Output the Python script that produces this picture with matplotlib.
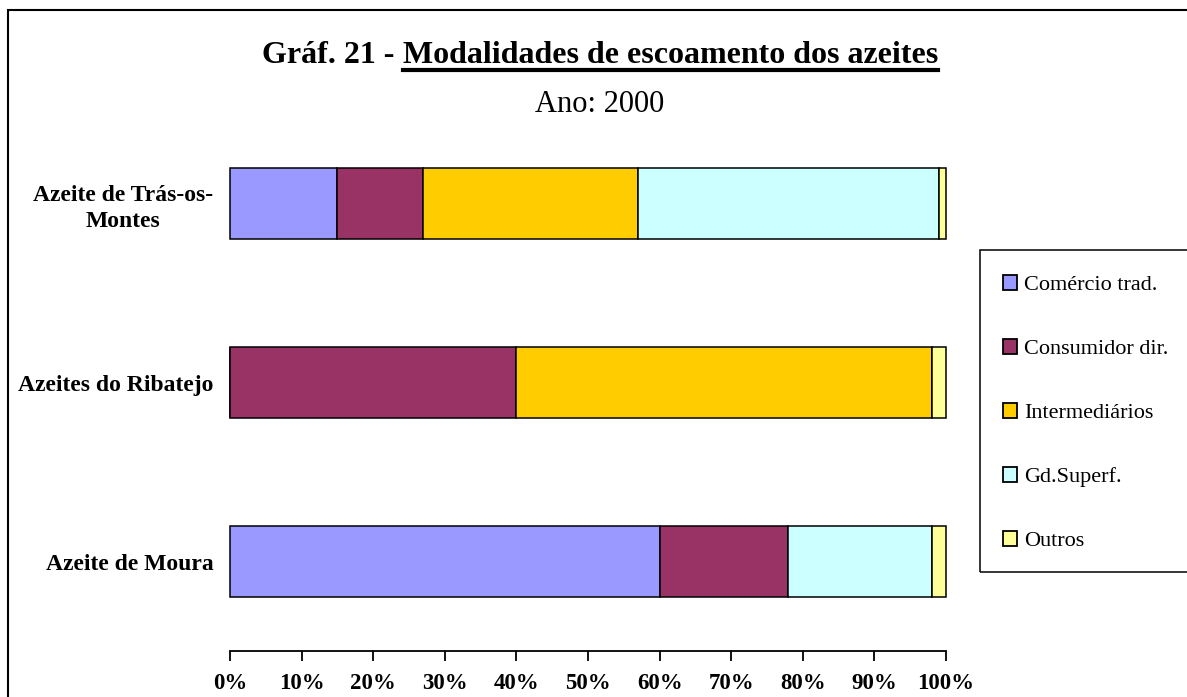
import matplotlib
matplotlib.use('Agg')
from matplotlib import pyplot as plt
from matplotlib.patches import Rectangle, Patch
from matplotlib.ticker import FuncFormatter
from matplotlib.lines import Line2D

# dados
categorias = ['Azeite de Moura', 'Azeites do Ribatejo', 'Azeite de Trás-os-\nMontes']
series = ['Comércio trad.', 'Consumidor dir.', 'Intermediários', 'Gd.Superf.', 'Outros']
comercio = [60, 0, 15]
consumidor = [18, 40, 12]
intermediarios = [0, 58, 30]
gd_superf = [20, 0, 42]
outros = [2, 2, 1]
cores = ['#9999FF', '#993366', '#FFCC00', '#CCFFFF', '#FFFF99']

W, H = 1187, 697
plt.rcParams['font.family'] = ['Liberation Serif', 'DejaVu Serif']

fig = plt.figure(figsize=(W / 100, H / 100), dpi=100)

def fx(px):
  return px / W

def fy(py):
  return 1 - py / H

# moldura exterior
fig.patches.append(Rectangle((fx(8), fy(H + 20)), fx(W + 20), (H + 10) / H,
                             transform=fig.transFigure, fill=False, lw=1.5, ec='black'))

ax = fig.add_axes([fx(230), fy(651), 716 / W, (651 - 114) / H])

valores = [comercio, consumidor, intermediarios, gd_superf, outros]
esquerda = [0, 0, 0]
for serie, vals, cor in zip(series, valores, cores):
  ax.barh(range(len(categorias)), vals, left=esquerda, height=0.4, color=cor,
          edgecolor='black', linewidth=1.1, label=serie, clip_on=False)
  esquerda = [e + v for e, v in zip(esquerda, vals)]

ax.set_xlim(0, 100)
ax.set_ylim(-0.5, 2.5)
ax.set_xticks(range(0, 101, 10))
ax.xaxis.set_major_formatter(FuncFormatter(lambda v, p: f'{v:.0f}%'))
ax.set_yticks(range(len(categorias)))
ax.set_yticklabels(categorias, fontweight='bold', fontsize=17, multialignment='center',
                   linespacing=1.3)
for s in ['top', 'right', 'left']:
  ax.spines[s].set_visible(False)
ax.spines['bottom'].set_linewidth(1.3)
ax.tick_params(axis='y', length=0, pad=12)
ax.tick_params(axis='x', direction='out', length=7, width=1.3, pad=9, labelsize=16.5)
for t in ax.get_xticklabels():
  t.set_fontweight('bold')

# titulo com parte sublinhada
r = fig.canvas.get_renderer()
parte1 = 'Gráf. 21 - '
parte2 = 'Modalidades de escoamento dos azeites'
tam_tit = 23
tmp = fig.text(0, 0, parte1 + parte2, fontsize=tam_tit, fontweight='bold')
larg_total = tmp.get_window_extent(r).width
tmp.remove()
tmp = fig.text(0, 0, parte2, fontsize=tam_tit, fontweight='bold')
larg2 = tmp.get_window_extent(r).width
tmp.remove()
cx = 600
x0 = cx - larg_total / 2
x_split = cx + larg_total / 2 - larg2
fig.text(fx(x0), fy(63), parte1, fontsize=tam_tit, fontweight='bold', va='baseline', ha='left')
fig.text(fx(x_split), fy(63), parte2, fontsize=tam_tit, fontweight='bold', va='baseline', ha='left')
fig.lines.append(Line2D([fx(x_split), fx(cx + larg_total / 2)], [fy(69.5), fy(69.5)],
                        transform=fig.transFigure, color='black', lw=3))
fig.text(fx(cx), fy(112), 'Ano: 2000', fontsize=22, va='baseline', ha='center')

# legenda
fig.patches.append(Rectangle((fx(980), fy(572)), fx(260), (572 - 250) / H,
                             transform=fig.transFigure, fill=False, lw=1.1, ec='black'))
handles = [Patch(facecolor=c, edgecolor='black', linewidth=1.3) for c in cores]
fig.legend(handles, series, loc='upper left', bbox_to_anchor=(fx(1003), fy(275)),
           frameon=False, fontsize=16, handlelength=0.65, handleheight=0.65,
           handletextpad=0.3, labelspacing=1.97, borderaxespad=0, borderpad=0)

fig.savefig('out.png', dpi=100)
